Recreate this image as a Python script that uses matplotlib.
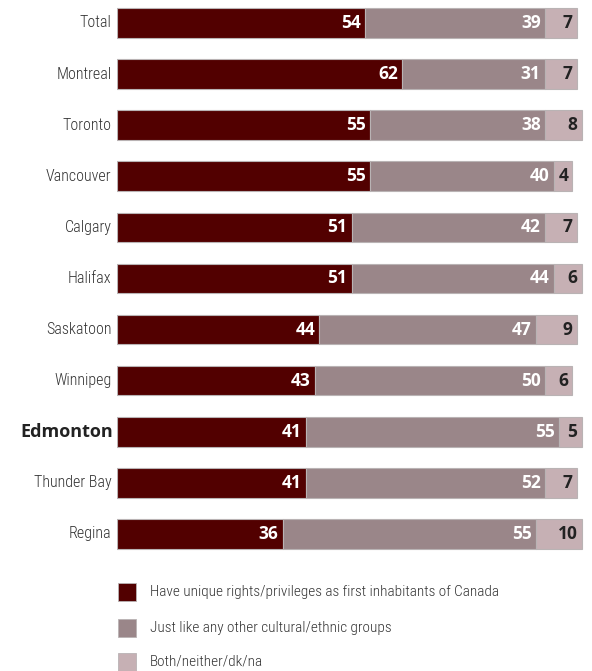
import matplotlib
matplotlib.use("Agg")
from matplotlib import pyplot as plt
from matplotlib.patches import Rectangle

cities = ["Total", "Montreal", "Toronto", "Vancouver", "Calgary", "Halifax",
          "Saskatoon", "Winnipeg", "Edmonton", "Thunder Bay", "Regina"]
unique_rights = [54, 62, 55, 55, 51, 51, 44, 43, 41, 41, 36]
like_others = [39, 31, 38, 40, 42, 44, 47, 50, 55, 52, 55]
both_neither = [7, 7, 8, 4, 7, 6, 9, 6, 5, 7, 10]
series_names = ["Have unique rights/privileges as first inhabitants of Canada",
                "Just like any other cultural/ethnic groups",
                "Both/neither/dk/na"]
colors = ["#520000", "#9a8689", "#c6b0b4"]
text_colors = ["white", "white", "#222222"]
highlight = "Edmonton"

narrow = ["Roboto Condensed", "DejaVu Sans"]
bold = ["Open Sans", "DejaVu Sans"]

W, H = 592, 671
fig = plt.figure(figsize=(W / 100, H / 100), dpi=100)
ax = fig.add_axes([117 / W, 1 - 560 / H, 1 - 117 / W, 560 / H])

px_per_unit = 4.6
ax.set_xlim(0, (W - 117) / px_per_unit)
ax.set_ylim(10.51, -0.45)
ax.axis("off")

rows = list(range(len(cities)))
left = [0] * len(cities)
for vals, c, tc in zip([unique_rights, like_others, both_neither], colors, text_colors):
    ax.barh(rows, vals, left=left, height=0.58, color=c, edgecolor="#b9b3b4", linewidth=0.8)
    for i, (v, l) in enumerate(zip(vals, left)):
        ax.text(l + v - 0.9, i, str(v), ha="right", va="center", color=tc,
                family=bold, weight="bold", fontsize=12.5)
    left = [a + b for a, b in zip(left, vals)]

for i, name in enumerate(cities):
    if name == highlight:
        ax.text(-0.9, i, name, ha="right", va="center", fontsize=13,
                family=bold, weight="bold", color="#222222")
    else:
        ax.text(-1.2, i, name, ha="right", va="center", fontsize=11.5,
                family=narrow, weight="light", color="#333333")

# legend
leg_y = [592, 628, 662]
for y, c, name in zip(leg_y, colors, series_names):
    fig.patches.append(Rectangle((118 / W, 1 - (y + 9) / H), 18 / W, 18 / H,
                                 transform=fig.transFigure, facecolor=c,
                                 edgecolor="#b9b3b4", linewidth=0.6))
    fig.text(150 / W, 1 - y / H, name, ha="left", va="center", fontsize=11,
             family=narrow, weight="light", color="#333333")

fig.savefig("out.png", dpi=100)
